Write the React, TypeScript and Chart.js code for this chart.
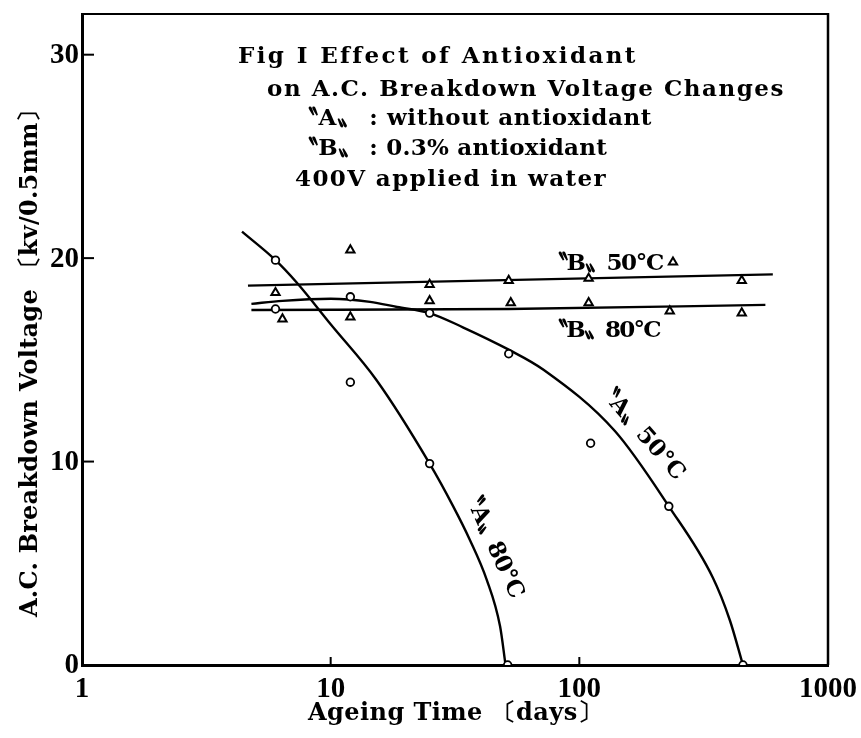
import React, { useEffect, useRef } from 'react';
import { Chart, registerables } from 'chart.js';

Chart.register(...registerables);

// ---- axis ticks ----
const xTicks = [1, 10, 100, 1000];
const yTicks = [0, 10, 20, 30];

// ---- measured points (days, kV/0.5mm) ----
const a80Days = [6, 12, 25, 51.5];
const a80Volts = [19.9, 13.9, 9.9, 0];
const a50Days = [6, 12, 25, 52, 111, 229, 455];
const a50Volts = [17.5, 18.1, 17.3, 15.3, 10.9, 7.8, 0];
const b50Days = [6, 12, 25, 52, 109, 238, 450];
const b50Volts = [18.3, 20.4, 18.7, 18.9, 19.0, 19.8, 18.9];
const b80Days = [6.4, 12, 25, 53, 109, 231, 450];
const b80Volts = [17.0, 17.1, 17.9, 17.8, 17.8, 17.4, 17.3];

// ---- hand-drawn trend curves ----
const a80CurveDays = [4.4, 6, 7.3, 10, 15.3, 25, 31.1, 36.3, 42.4, 48, 50.5];
const a80CurveVolts = [21.3, 19.9, 18.8, 16.75, 14.0, 9.9, 7.8, 6.15, 4.2, 1.9, 0];
const a50CurveDays = [4.8, 6.4, 10, 14.4, 18.5, 25, 34, 52, 72, 139, 229, 344, 403, 455];
const a50CurveVolts = [17.75, 17.9, 18.0, 17.85, 17.6, 17.3, 16.6, 15.5, 14.5, 11.5, 7.8, 4.3, 2.2, 0];
const b50LineDays = [4.65, 600];
const b50LineVolts = [18.65, 19.2];
const b80LineDays = [4.8, 52, 560];
const b80LineVolts = [17.45, 17.5, 17.7];

// ---- texts ----
const captionLines = [
  'Fig I Effect of Antioxidant',
  'on A.C. Breakdown Voltage Changes',
  '〝A〟 : without antioxidant',
  '〝B〟 : 0.3% antioxidant',
  '400V applied in water',
];
const xTitle = 'Ageing Time 〔days〕';
const yTitle = 'A.C. Breakdown Voltage 〔kv/0.5mm〕';
const curveLabels = ['〝B〟50°C', '〝B〟80°C', '〝A〟50°C', '〝A〟80°C'];
// label anchors in data coordinates
const curveLabelDays = [72.7, 72.7, 174, 44.4];
const curveLabelVolts = [19.42, 16.13, 11.55, 6.06];

const pts = (xs: number[], ys: number[]) => xs.map((x, i) => ({ x, y: ys[i] }));

const TICKFONT = '"Liberation Serif", "Times New Roman", serif';
const TEXTFONT = '"DejaVu Serif", "Liberation Serif", serif';

function fitSpacing(ctx: any, text: string, width: number) {
  if (!('letterSpacing' in ctx)) return;
  ctx.letterSpacing = '0px';
  const w0 = ctx.measureText(text).width;
  const n = Array.from(text).length;
  ctx.letterSpacing = ((width - w0) / n).toFixed(2) + 'px';
}

const decorPlugin = {
  id: 'decor',
  afterDraw(chart: any) {
    const { ctx, chartArea: ca } = chart;
    const xs = chart.scales.x;
    const ys = chart.scales.y;
    ctx.save();
    ctx.strokeStyle = '#000';
    ctx.fillStyle = '#000';
    // frame top / right
    ctx.lineWidth = 2;
    ctx.beginPath();
    ctx.moveTo(ca.left, ca.top);
    ctx.lineTo(ca.right, ca.top);
    ctx.stroke();
    ctx.lineWidth = 2.5;
    ctx.beginPath();
    ctx.moveTo(ca.right, ca.top - 1);
    ctx.lineTo(ca.right, ca.bottom);
    ctx.stroke();
    // inward tick marks
    ctx.lineWidth = 2;
    yTicks.filter((v) => v > 0).forEach((v) => {
      const py = ys.getPixelForValue(v);
      ctx.beginPath();
      ctx.moveTo(ca.left, py);
      ctx.lineTo(ca.left + 12, py);
      ctx.stroke();
    });
    xTicks.filter((v) => v > 1 && v < 1000).forEach((v) => {
      const px = xs.getPixelForValue(v);
      ctx.beginPath();
      ctx.moveTo(px, ca.bottom);
      ctx.lineTo(px, ca.bottom - 8);
      ctx.stroke();
    });

    // caption block
    ctx.font = `bold 23px ${TEXTFONT}`;
    ctx.textAlign = 'left';
    ctx.textBaseline = 'alphabetic';
    const capX = [238, 267, 295, 295, 295];
    const capY = [63, 96, 125, 155, 186];
    const capW = [399, 518, 357, 312, 312];
    captionLines.forEach((t, i) => {
      fitSpacing(ctx, t, capW[i]);
      ctx.fillText(t, capX[i], capY[i]);
    });

    // curve labels
    const labW = [118, 115, 125, 121];
    const labRot = [0, 0, 49, 65.6];
    curveLabels.forEach((t, i) => {
      const px = xs.getPixelForValue(curveLabelDays[i]);
      const py = ys.getPixelForValue(curveLabelVolts[i]);
      ctx.save();
      ctx.font = `bold 23px ${TEXTFONT}`;
      fitSpacing(ctx, t, labW[i]);
      ctx.translate(px, py);
      if (labRot[i]) {
        ctx.rotate((labRot[i] * Math.PI) / 180);
        ctx.textAlign = 'center';
        ctx.textBaseline = 'middle';
      } else {
        ctx.textAlign = 'left';
        ctx.textBaseline = 'alphabetic';
      }
      ctx.fillText(t, 0, 0);
      ctx.restore();
    });

    // axis titles
    ctx.font = `bold 24px ${TEXTFONT}`;
    ctx.textAlign = 'center';
    ctx.textBaseline = 'alphabetic';
    fitSpacing(ctx, xTitle, 294);
    ctx.fillText(xTitle, (ca.left + ca.right) / 2, ca.bottom + 55);
    ctx.save();
    fitSpacing(ctx, yTitle, 519);
    ctx.translate(37, 357.5);
    ctx.rotate(-Math.PI / 2);
    ctx.fillText(yTitle, 0, 0);
    ctx.restore();

    ctx.restore();
  },
};

const circleStyle = {
  showLine: false,
  pointStyle: 'circle',
  pointRadius: 3.8,
  pointBorderWidth: 1.8,
  pointBackgroundColor: '#fff',
  pointBorderColor: '#000',
  order: 0,
};
const triStyle = {
  showLine: false,
  pointStyle: 'triangle',
  pointRadius: 4.8,
  pointBorderWidth: 2,
  pointBackgroundColor: '#fff',
  pointBorderColor: '#000',
  order: 0,
};
const curveStyle = {
  showLine: true,
  pointRadius: 0,
  borderColor: '#000',
  borderWidth: 2.4,
  cubicInterpolationMode: 'monotone',
  fill: false,
  order: 1,
};

export default function App() {
  const ref = useRef<HTMLCanvasElement | null>(null);
  useEffect(() => {
    if (!ref.current) return;
    const tickFont = { family: TICKFONT, size: 29, weight: 'bold', lineHeight: 1.2 };
    const chart = new Chart(ref.current, {
      type: 'scatter',
      data: {
        datasets: [
          { label: 'A 80°C', data: pts(a80Days, a80Volts), ...circleStyle },
          { label: 'A 50°C', data: pts(a50Days, a50Volts), ...circleStyle },
          { label: 'B 50°C', data: pts(b50Days, b50Volts), ...triStyle },
          { label: 'B 80°C', data: pts(b80Days, b80Volts), ...triStyle },
          { label: 'A 80°C curve', data: pts(a80CurveDays, a80CurveVolts), ...curveStyle },
          { label: 'A 50°C curve', data: pts(a50CurveDays, a50CurveVolts), ...curveStyle },
          { label: 'B 50°C line', data: pts(b50LineDays, b50LineVolts), ...curveStyle },
          { label: 'B 80°C line', data: pts(b80LineDays, b80LineVolts), ...curveStyle },
        ] as any,
      },
      options: {
        responsive: false,
        animation: false,
        layout: { padding: { top: 14, right: 33, bottom: 0, left: 0 } },
        plugins: { legend: { display: false }, tooltip: { enabled: false } },
        scales: {
          x: {
            type: 'logarithmic',
            min: 1,
            max: 1000,
            afterBuildTicks: (s: any) => {
              s.ticks = xTicks.map((v) => ({ value: v }));
            },
            afterFit: (s: any) => {
              s.height = 73;
              s.paddingLeft = 0;
              s.paddingRight = 0;
            },
            grid: { display: false, drawTicks: false },
            border: { display: true, color: '#000', width: 3 },
            ticks: {
              color: '#000',
              font: tickFont as any,
              padding: 7,
              maxRotation: 0,
              autoSkip: false,
              callback: (v: any) => String(v),
            },
          },
          y: {
            type: 'linear',
            min: 0,
            max: 32,
            afterBuildTicks: (s: any) => {
              s.ticks = yTicks.map((v) => ({ value: v }));
            },
            afterFit: (s: any) => {
              s.width = 82;
              s.paddingTop = 0;
              s.paddingBottom = 0;
            },
            grid: { display: false, drawTicks: false },
            border: { display: true, color: '#000', width: 3 },
            ticks: {
              color: '#000',
              font: tickFont as any,
              padding: 3,
              labelOffset: 1,
              callback: (v: any) => String(v),
            },
          },
        },
      } as any,
      plugins: [decorPlugin],
    });
    return () => chart.destroy();
  }, []);
  return (
    <div style={{ position: 'fixed', left: 0, top: 0, width: 861, height: 738, background: '#fff' }}>
      <canvas ref={ref} width={861} height={738} style={{ display: 'block' }} />
    </div>
  );
}
